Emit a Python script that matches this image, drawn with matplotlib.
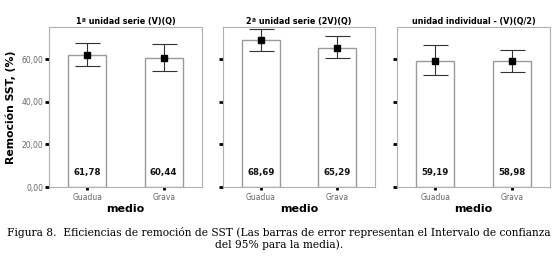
import numpy as np
import matplotlib.pyplot as plt

# data
categories = ['Guadua', 'Grava']
titles = ['1ª unidad serie (V)(Q)', '2ª unidad serie (2V)(Q)', 'unidad individual - (V)(Q/2)']
means = [[61.78, 60.44], [68.69, 65.29], [59.19, 58.98]]
ci_low = [[56.6, 54.4], [63.6, 60.3], [52.5, 53.9]]
ci_high = [[67.6, 66.9], [73.9, 70.8], [66.4, 64.4]]
yticks = [0, 20, 40, 60]
ytick_labels = ['0,00', '20,00', '40,00', '60,00']

W, H = 558, 256
fig = plt.figure(figsize=(W / 100, H / 100), dpi=100)

panels_px = [(49, 202), (223, 375), (397, 550)]
top_px, bot_px = 27, 187
edge = '#9a9a9a'

for i, (x0, x1) in enumerate(panels_px):
    ax = fig.add_axes([x0 / W, 1 - bot_px / H, (x1 - x0) / W, (bot_px - top_px) / H])
    x = np.arange(len(categories))
    m = np.array(means[i])
    lo = np.array(ci_low[i])
    hi = np.array(ci_high[i])
    ax.bar(x, m, width=0.5, color='white', edgecolor=edge, linewidth=1.0, zorder=2)
    ax.errorbar(x, m, yerr=[m - lo, hi - m], fmt='s', color='black', ms=5,
                ecolor='#333333', elinewidth=0.8, capsize=9, capthick=0.8, zorder=3)
    for xi, v in zip(x, m):
        ax.text(xi, 4.5, f'{v:.2f}'.replace('.', ','), ha='center', va='bottom',
                fontsize=6.2, fontweight='bold', color='#111111', zorder=4)
    ax.set_xlim(-0.5, 1.5)
    ax.set_ylim(0, 75)
    for s in ax.spines.values():
        s.set_color('#b0b0b0')
        s.set_linewidth(0.8)
    ax.set_yticks(yticks)
    ax.set_xticks(x)
    ax.set_xticklabels(categories, fontsize=5.5, color='#666666')
    ax.tick_params(axis='y', length=3, width=2, color='black', pad=1)
    ax.tick_params(axis='x', length=2.5, width=2, color='black', pad=1.5)
    if i == 0:
        ax.set_yticklabels(ytick_labels, fontsize=5.5, color='#666666')
        ax.set_ylabel('Remoción SST, (%)', fontsize=7.8, fontweight='bold', labelpad=4)
    else:
        ax.set_yticklabels([])
    ax.set_title(titles[i], fontsize=5.8, fontweight='bold', pad=2)
    ax.set_xlabel('medio', fontsize=8, fontweight='bold', labelpad=2)

fig.text(0.5, 1 - 232 / H, 'Figura 8.  Eficiencias de remoción de SST (Las barras de error representan el Intervalo de confianza',
         ha='center', va='center', fontsize=7.65, family='DejaVu Serif')
fig.text(0.5, 1 - 245 / H, 'del 95% para la media).',
         ha='center', va='center', fontsize=7.65, family='DejaVu Serif')

fig.savefig('out.png', dpi=100)
